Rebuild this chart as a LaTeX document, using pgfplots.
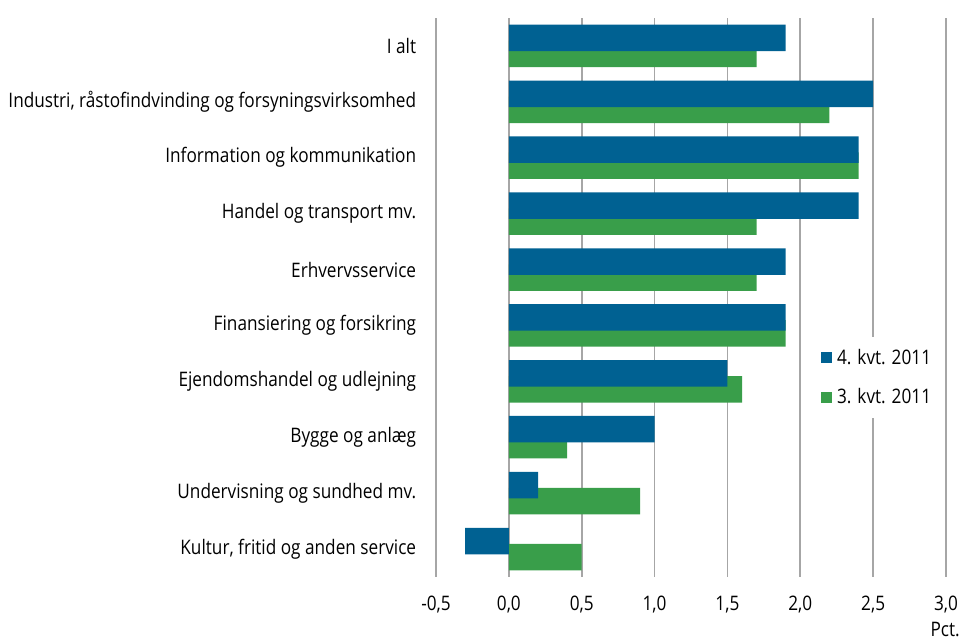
\documentclass[border=0pt]{standalone}
\usepackage{pgfplots}
\pgfplotsset{compat=1.18}
\usepackage{fontspec}
\setmainfont{Open Sans}[FakeStretch=0.86]
\definecolor{cblue}{HTML}{006192}
\definecolor{cgreen}{HTML}{399E4A}
\definecolor{cgrid}{HTML}{A6A6A6}
\begin{document}
\fontsize{20}{24}\selectfont
\begin{tikzpicture}
\path[use as bounding box] (0,0) rectangle (964pt,642pt);
\begin{axis}[
  at={(436pt,65pt)}, anchor=south west,
  scale only axis, width=510pt, height=559pt,
  xbar, bar width=26.5pt,
  xmin=-0.5, xmax=3.0, ymin=-0.5, ymax=9.5,
  axis line style={draw=none},
  xtick={-0.5,0,...,3.0},
  xmajorgrids, major grid style={cgrid, line width=1.6pt},
  major tick length=0pt,
  ytick={0,...,9},
  yticklabels={Kultur{,} fritid og anden service, Undervisning og sundhed mv., Bygge og anlæg, Ejendomshandel og udlejning, Finansiering og forsikring, Erhvervsservice, Handel og transport mv., Information og kommunikation, {Industri, råstofindvinding og forsyningsvirksomhed}, I alt},
  yticklabel style={anchor=east, xshift=-13pt},
  xticklabel style={yshift=-12pt},
  /pgf/number format/.cd, fixed, fixed zerofill, precision=1, use comma, assume math mode=true,
  /pgfplots/.cd,
  legend style={at={(0.743,0.43)}, anchor=north west, draw=none, fill=white, inner xsep=6pt, inner ysep=10pt, row sep=17pt, column sep=3pt, font=\fontsize{20}{24}\selectfont},
  legend cell align=left,
  legend image code/.code={\fill[#1] (0pt,-5.5pt) rectangle (11pt,5.5pt);},
  clip=false,
]
\addplot[fill=cgreen, draw=none, bar shift=-8pt, forget plot] coordinates {
(0.5,0) (0.9,1) (0.4,2) (1.6,3) (1.9,4) (1.7,5) (1.7,6) (2.4,7) (2.2,8) (1.7,9)};
\addplot[fill=cblue, draw=none, bar shift=8pt] coordinates {
(-0.3,0) (0.2,1) (1.0,2) (1.5,3) (1.9,4) (1.9,5) (2.4,6) (2.4,7) (2.5,8) (1.9,9)};
\addlegendentry{4. kvt. 2011}
\addlegendimage{fill=cgreen, draw=none}
\addlegendentry{3. kvt. 2011}
\node[anchor=north east, inner sep=0pt] at (rel axis cs:1,0) [xshift=14pt, yshift=-45pt] {Pct.};
\end{axis}
\end{tikzpicture}
\end{document}
